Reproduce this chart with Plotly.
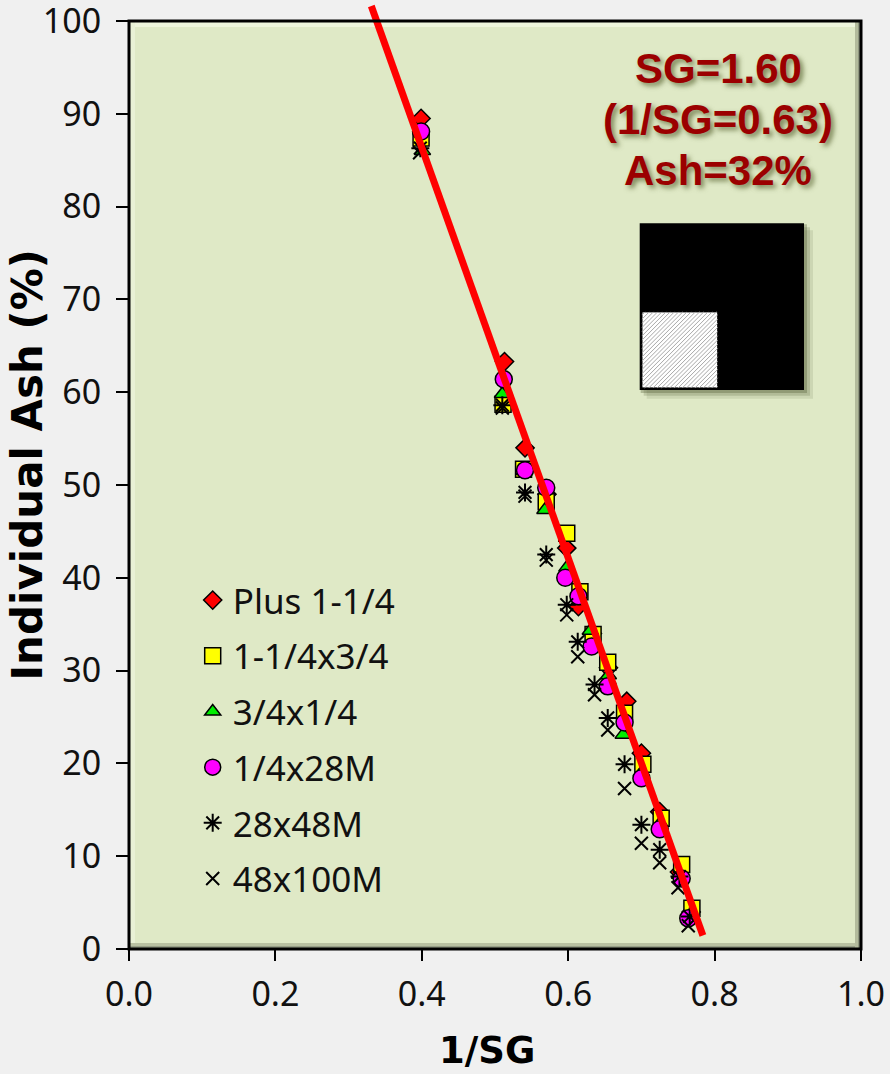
import plotly.graph_objects as go

# ---------------- data ----------------
series_names = ["Plus 1-1/4", "1-1/4x3/4", "3/4x1/4", "1/4x28M", "28x48M", "48x100M"]

plus114_x = [0.399, 0.513, 0.541, 0.571, 0.598, 0.614, 0.633, 0.655, 0.680, 0.700, 0.725, 0.752, 0.768]
plus114_y = [89.5, 63.3, 54.0, 49.0, 43.2, 36.9, 34.0, 30.3, 26.7, 21.1, 14.8, 8.3, 4.0]

s114x34_x = [0.399, 0.511, 0.539, 0.570, 0.598, 0.616, 0.634, 0.654, 0.677, 0.702, 0.727, 0.755, 0.769]
s114x34_y = [87.4, 58.7, 51.7, 48.2, 44.8, 38.5, 33.9, 30.9, 25.4, 19.9, 14.1, 9.1, 4.4]

s34x14_x = [0.401, 0.510, 0.540, 0.568, 0.598, 0.615, 0.630, 0.655, 0.675, 0.700, 0.725, 0.752, 0.768]
s34x14_y = [86.0, 59.8, 51.5, 47.3, 41.1, 37.5, 34.3, 29.5, 23.1, 19.0, 13.5, 8.0, 3.8]

s14x28_x = [0.399, 0.512, 0.541, 0.570, 0.596, 0.614, 0.632, 0.654, 0.677, 0.700, 0.725, 0.755, 0.764]
s14x28_y = [88.1, 61.4, 51.6, 49.7, 40.0, 38.0, 32.6, 28.3, 24.4, 18.4, 12.9, 7.6, 3.3]

s28x48_x = [0.398, 0.510, 0.541, 0.570, 0.598, 0.613, 0.636, 0.654, 0.677, 0.700, 0.725, 0.752, 0.766]
s28x48_y = [86.3, 58.6, 49.2, 42.5, 37.1, 33.1, 28.5, 24.9, 19.9, 13.4, 10.7, 7.8, 3.5]

s48x100_x = [0.397, 0.510, 0.541, 0.570, 0.598, 0.613, 0.636, 0.654, 0.677, 0.700, 0.725, 0.750, 0.764]
s48x100_y = [85.8, 58.3, 48.8, 41.9, 36.0, 31.5, 27.4, 23.6, 17.3, 11.4, 9.3, 6.6, 2.5]

# linear fit: Ash = intercept + slope * (1/SG)
fit_intercept = 174.8
fit_slope = -221.1
fit_x_range = [0.331, 0.784]

x_tick_vals = [0.0, 0.2, 0.4, 0.6, 0.8, 1.0]
x_tick_text = ["0.0", "0.2", "0.4", "0.6", "0.8", "1.0"]
y_tick_vals = [0, 10, 20, 30, 40, 50, 60, 70, 80, 90, 100]

note_lines = ["SG=1.60", "(1/SG=0.63)", "Ash=32%"]

# ---------------- layout geometry (pixels) ----------------
W, H = 890, 1074
PL, PR, PT, PB = 129.3, 861.3, 21.0, 949.3   # plot-area edges
PW = PR - PL
PAPER_H = PB  # margin top = 0, paper spans 0..PB


def px_x(p):
    return (p - PL) / PW


def px_y(p):
    return (PB - p) / PAPER_H


y_dom_top = (PB - PT) / PAPER_H
y2_top = 100.0 / y_dom_top

fig = go.Figure()

styles = [
    dict(symbol="diamond", size=14, color="#ff0000", line=dict(color="black", width=1.5)),
    dict(symbol="square", size=16, color="#ffff00", line=dict(color="black", width=1.5)),
    dict(symbol="triangle-up", size=14, color="#00ee00", line=dict(color="black", width=1.5)),
    dict(symbol="circle", size=17, color="#ff00ff", line=dict(color="black", width=1.5)),
    dict(symbol="asterisk-open", size=15, color="black", line=dict(color="black", width=2)),
    dict(symbol="x-thin-open", size=13, color="black", line=dict(color="black", width=2)),
]
data_xy = [
    (plus114_x, plus114_y), (s114x34_x, s114x34_y), (s34x14_x, s34x14_y),
    (s14x28_x, s14x28_y), (s28x48_x, s28x48_y), (s48x100_x, s48x100_y),
]
for i, (name, (xs, ys), st) in enumerate(zip(series_names, data_xy, styles)):
    fig.add_trace(go.Scatter(
        x=xs, y=ys, mode="markers", name=name, legendgroup=f"g{i}",
        marker=st, xaxis="x", yaxis="y", cliponaxis=False,
    ))

# fit line (on an invisible axis extending above the frame so the line can poke out)
fx = fit_x_range
fy = [fit_intercept + fit_slope * v for v in fx]
fig.add_trace(go.Scatter(
    x=fx, y=fy, mode="lines", line=dict(color="#ff0000", width=7),
    showlegend=False, xaxis="x", yaxis="y2", hoverinfo="skip",
))

font_main = "Noto Sans, Open Sans, DejaVu Sans, sans-serif"
font_title = "DejaVu Sans, Verdana, sans-serif"

shapes = []
# plot background
shapes.append(dict(type="rect", xref="x domain", yref="y domain", x0=0, x1=1, y0=0, y1=1,
                   fillcolor="#dfe9c6", line=dict(width=0), layer="below"))
# bevel strips
bx = 3 / PW
by = 3 / (PB - PT)
shapes += [
    dict(type="rect", xref="x domain", yref="y domain", x0=0, x1=1, y0=1 - 2 * by, y1=1,
         fillcolor="#eef5dc", line=dict(width=0), layer="below"),
    dict(type="rect", xref="x domain", yref="y domain", x0=0, x1=2 * bx, y0=0, y1=1,
         fillcolor="#e9f1d6", line=dict(width=0), layer="below"),
    dict(type="rect", xref="x domain", yref="y domain", x0=0, x1=1, y0=0, y1=2 * by,
         fillcolor="#b9c1a2", line=dict(width=0), layer="below"),
    dict(type="rect", xref="x domain", yref="y domain", x0=0, x1=1, y0=0, y1=by,
         fillcolor="#98a088", line=dict(width=0), layer="below"),
    dict(type="rect", xref="x domain", yref="y domain", x0=1 - 2 * bx, x1=1, y0=0, y1=1,
         fillcolor="#b3bb9c", line=dict(width=0), layer="below"),
    dict(type="rect", xref="x domain", yref="y domain", x0=1 - bx, x1=1, y0=0, y1=1,
         fillcolor="#8f977f", line=dict(width=0), layer="below"),
]
# frame
shapes.append(dict(type="rect", xref="x domain", yref="y domain", x0=0, x1=1, y0=0, y1=1,
                   line=dict(color="black", width=3), fillcolor="rgba(0,0,0,0)", layer="above"))

# icon: black square with hatched inner square
bx0, bx1, by0, by1 = 640.0, 804.3, 223.3, 390.0
for off, op in [(9, 0.12), (6, 0.2), (3, 0.3)]:
    shapes.append(dict(type="rect", xref="paper", yref="paper",
                       x0=px_x(bx0 + off - 2), x1=px_x(bx1 + off), y0=px_y(by1 + off), y1=px_y(by0 + off - 2),
                       fillcolor=f"rgba(70,80,40,{op})", line=dict(width=0), layer="above"))
shapes.append(dict(type="rect", xref="paper", yref="paper",
                   x0=px_x(bx0), x1=px_x(bx1), y0=px_y(by1), y1=px_y(by0),
                   fillcolor="black", line=dict(width=0), layer="above"))
hx0, hx1, hy0, hy1 = 642.3, 718.0, 312.0, 388.0
shapes.append(dict(type="rect", xref="paper", yref="paper",
                   x0=px_x(hx0), x1=px_x(hx1), y0=px_y(hy1), y1=px_y(hy0),
                   fillcolor="white", line=dict(color="black", width=1), layer="above"))
segs = []
c = hx0 + hy0 + 3
while c < hx1 + hy1:
    xa = max(hx0, c - hy1)
    xb = min(hx1, c - hy0)
    if xb > xa:
        segs.append(f"M{px_x(xa):.5f},{px_y(c - xa):.5f}L{px_x(xb):.5f},{px_y(c - xb):.5f}")
    c += 4.2
shapes.append(dict(type="path", xref="paper", yref="paper", path="".join(segs),
                   line=dict(color="#a8a8a8", width=1), layer="above"))

annotations = []
note_y = [68.3, 120.0, 170.7]
for txt, yy in zip(note_lines, note_y):
    annotations.append(dict(
        text=f"<b>{txt}</b>", x=px_x(718.5), y=px_y(yy), xref="paper", yref="paper",
        xanchor="center", yanchor="middle", showarrow=False,
        font=dict(family="Liberation Sans, Arial, sans-serif", size=42, color="#9b0000",
                  shadow="3px 3px 5px rgba(90,100,50,0.75)"),
    ))
annotations.append(dict(
    text="<b>1/SG</b>", x=px_x(487), y=px_y(1051), xref="paper", yref="paper",
    xanchor="center", yanchor="middle", showarrow=False,
    font=dict(family=font_title, size=37, color="black"),
))
annotations.append(dict(
    text="<b>Individual Ash (%)</b>", x=px_x(28), y=px_y(465), xref="paper", yref="paper",
    xanchor="center", yanchor="middle", showarrow=False, textangle=-90,
    font=dict(family=font_title, size=42, color="black"),
))

fig.update_layout(
    width=W, height=H,
    margin=dict(l=PL, r=W - PR, t=0, b=H - PB, pad=0, autoexpand=False),
    paper_bgcolor="#f0f0f0",
    plot_bgcolor="rgba(0,0,0,0)",
    font=dict(family=font_main, color="black"),
    xaxis=dict(range=[0, 1.0], domain=[0, 1], anchor="y", tickvals=x_tick_vals, ticktext=x_tick_text,
               ticks="outside", ticklen=11, tickwidth=1.5, tickcolor="black", automargin=False,
               showgrid=False, zeroline=False, showline=False, ticklabeloverflow="allow",
               tickfont=dict(size=34, family=font_main, color="#111"), ticklabelstandoff=4),
    yaxis=dict(range=[0, 100], domain=[0, y_dom_top], anchor="x", tickvals=y_tick_vals,
               ticks="outside", ticklen=12, tickwidth=1.5, tickcolor="black", automargin=False,
               showgrid=False, zeroline=False, showline=False, ticklabeloverflow="allow",
               tickfont=dict(size=34, family=font_main, color="#111"), ticklabelstandoff=8),
    yaxis2=dict(range=[0, y2_top], domain=[0, 1], anchor="x", visible=False, automargin=False,
                showgrid=False, zeroline=False),
    showlegend=True,
    legend=dict(x=px_x(193), y=px_y(571), xanchor="left", yanchor="top",
                bgcolor="rgba(0,0,0,0)", borderwidth=0,
                font=dict(size=35, family=font_main, color="#111"),
                traceorder="grouped", tracegroupgap=7.2, itemsizing="trace"),
    shapes=shapes,
    annotations=annotations,
)

fig.write_html(
    "out.html",
    config={"displayModeBar": False},
    post_script="document.body.style.margin='0';document.body.style.background='#f0f0f0';",
)
